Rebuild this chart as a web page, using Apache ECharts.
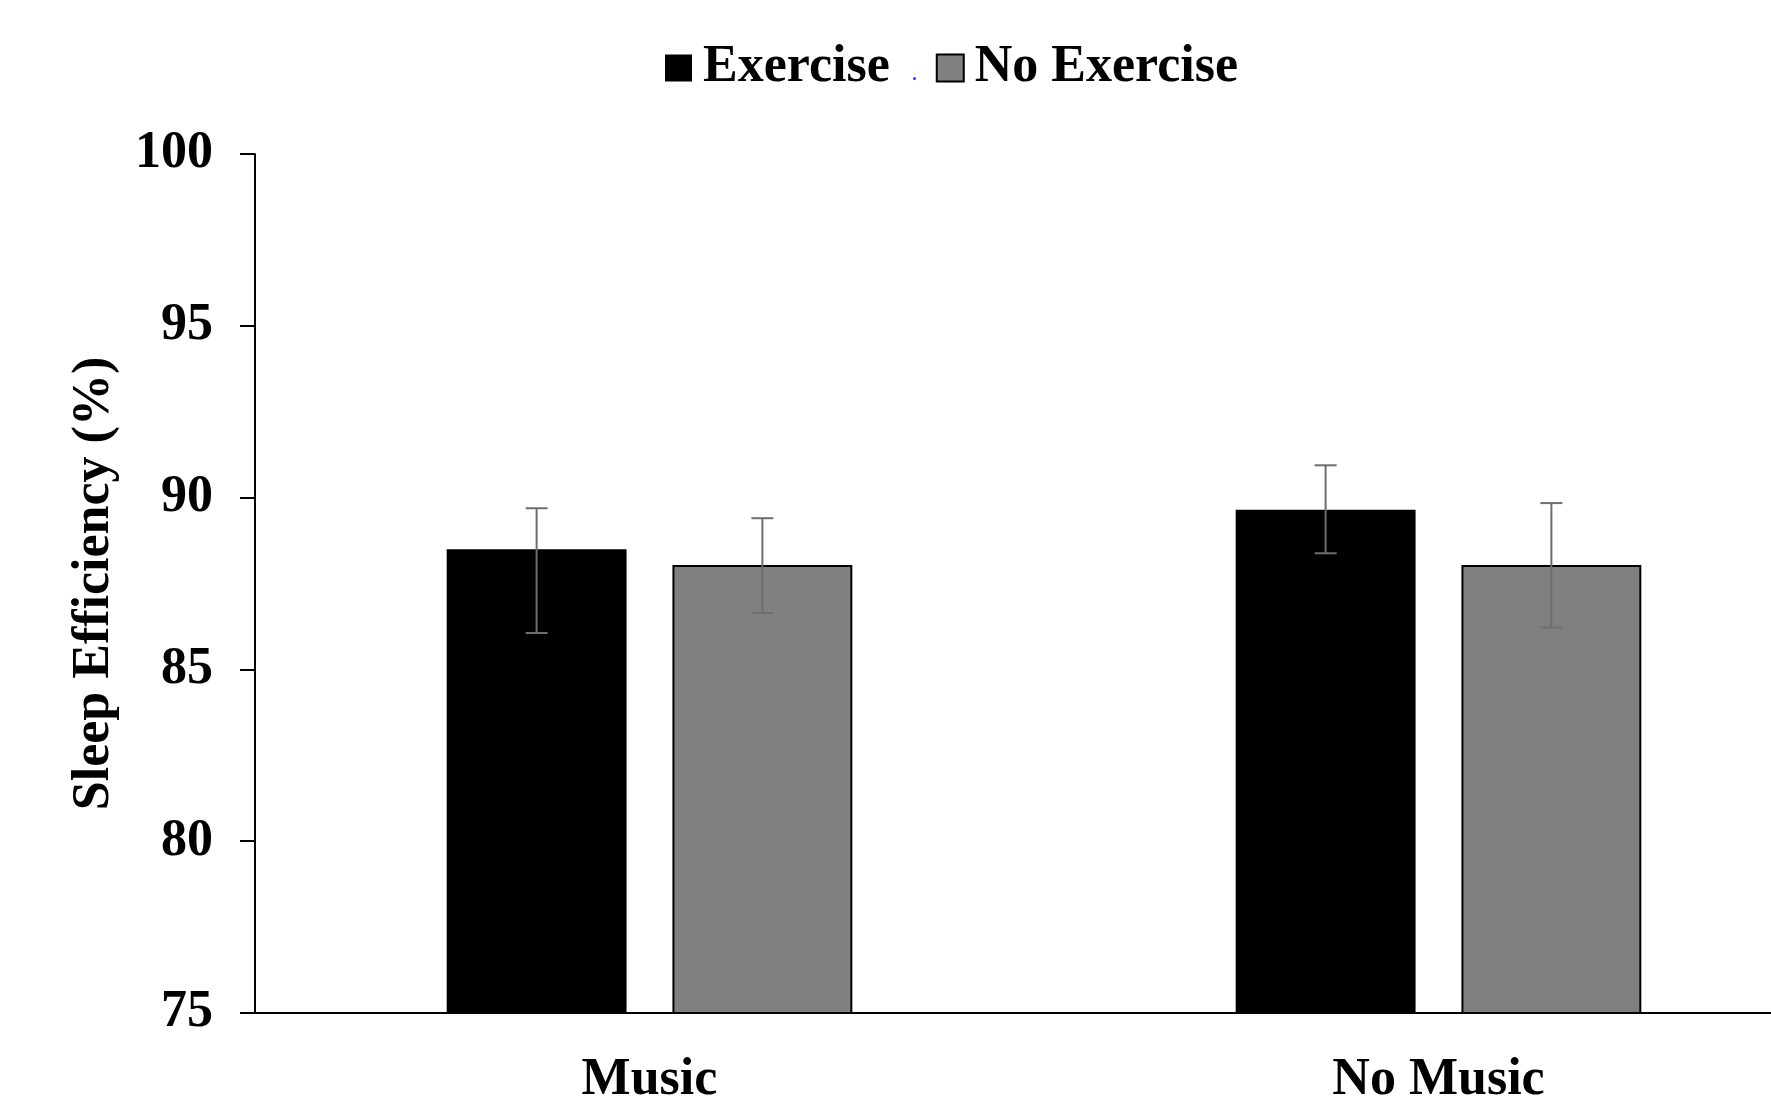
<!DOCTYPE html>
<html>
<head>
<meta charset="utf-8">
<script src="https://cdn.jsdelivr.net/npm/echarts@6/dist/echarts.min.js"></script>
<style>
html,body{margin:0;padding:0;background:#fff;overflow:hidden;}
#frame{width:1771px;height:1107px;overflow:hidden;position:relative;}
#chart{width:1833px;height:1107px;position:absolute;left:0;top:0;}
</style>
</head>
<body>
<div id="frame"><div id="chart"></div></div>
<script>
const categories = ['Music', 'No Music'];
const seriesNames = ['Exercise', 'No Exercise'];
const exerciseMean = [88.5, 89.65];
const exerciseLow = [86.06, 88.38];
const exerciseHigh = [89.69, 90.94];
const noExerciseMean = [88.04, 88.04];
const noExerciseLow = [86.64, 86.22];
const noExerciseHigh = [89.40, 89.84];
const yTicks = [75, 80, 85, 90, 95, 100];

const FONT = "'Liberation Serif', 'Times New Roman', serif";
const BAR_W = 0.228;   // fraction of band
const BAR_GAP = 0.255; // fraction of bar width

function errorSeries(name, low, high, side) {
  return {
    type: 'custom',
    name: name + ' error',
    z: 10,
    silent: true,
    tooltip: {show: false},
    data: low.map((l, i) => [i, l, high[i]]),
    encode: {x: 0, y: [1, 2]},
    renderItem: function (params, api) {
      const idx = api.value(0);
      const pL = api.coord([idx, api.value(1)]);
      const pH = api.coord([idx, api.value(2)]);
      const band = api.size([1, 0])[0];
      const off = side * band * (BAR_W + BAR_W * BAR_GAP) / 2;
      const x = pL[0] + off;
      const cap = 11;
      const st = {stroke: '#6e6e6e', lineWidth: 2};
      return {
        type: 'group',
        children: [
          {type: 'line', shape: {x1: x, y1: pH[1], x2: x, y2: pL[1]}, style: st},
          {type: 'line', shape: {x1: x - cap, y1: pH[1], x2: x + cap, y2: pH[1]}, style: st},
          {type: 'line', shape: {x1: x - cap, y1: pL[1], x2: x + cap, y2: pL[1]}, style: st}
        ]
      };
    }
  };
}

const chart = echarts.init(document.getElementById('chart'), null, {renderer: 'canvas'});
chart.setOption({
  animation: false,
  backgroundColor: '#ffffff',
  legend: {
    data: seriesNames.map(n => ({name: n, icon: 'rect'})),
    left: 660,
    top: 37,
    itemWidth: 27,
    itemHeight: 27,
    itemGap: 46,
    textStyle: {fontFamily: FONT, fontWeight: 'bold', fontSize: 52, color: '#000', padding: [0, 0, 0, 6]}
  },
  graphic: [{type: 'circle', left: 913, top: 77, shape: {r: 1.5}, style: {fill: '#3333ff'}}],
  grid: {left: 255, top: 154, width: 1578, height: 865, containLabel: false},
  xAxis: {
    type: 'category',
    data: categories,
    axisLine: {lineStyle: {color: '#000', width: 2}},
    axisTick: {show: false},
    axisLabel: {fontFamily: FONT, fontWeight: 'bold', fontSize: 52, color: '#000', margin: 42}
  },
  yAxis: {
    type: 'value',
    min: yTicks[0],
    max: yTicks[yTicks.length - 1],
    interval: 5,
    name: 'Sleep Efficiency (%)',
    nameLocation: 'middle',
    nameGap: 134,
    nameTextStyle: {fontFamily: FONT, fontWeight: 'bold', fontSize: 52, color: '#000'},
    axisLine: {show: true, lineStyle: {color: '#000', width: 2}},
    axisTick: {show: true, length: 15, lineStyle: {color: '#000', width: 2}},
    splitLine: {show: false},
    axisLabel: {fontFamily: FONT, fontWeight: 'bold', fontSize: 52, color: '#000', margin: 42}
  },
  series: [
    {
      type: 'bar', name: seriesNames[0], data: exerciseMean,
      barWidth: (BAR_W * 100) + '%', barGap: (BAR_GAP * 100) + '%',
      itemStyle: {color: '#000000', borderColor: '#000', borderWidth: 0}
    },
    {
      type: 'bar', name: seriesNames[1], data: noExerciseMean,
      barWidth: (BAR_W * 100) + '%', barGap: (BAR_GAP * 100) + '%',
      itemStyle: {color: '#808080', borderColor: '#000', borderWidth: 2}
    },
    errorSeries(seriesNames[0], exerciseLow, exerciseHigh, -1),
    errorSeries(seriesNames[1], noExerciseLow, noExerciseHigh, 1)
  ]
});
</script>
</body>
</html>
